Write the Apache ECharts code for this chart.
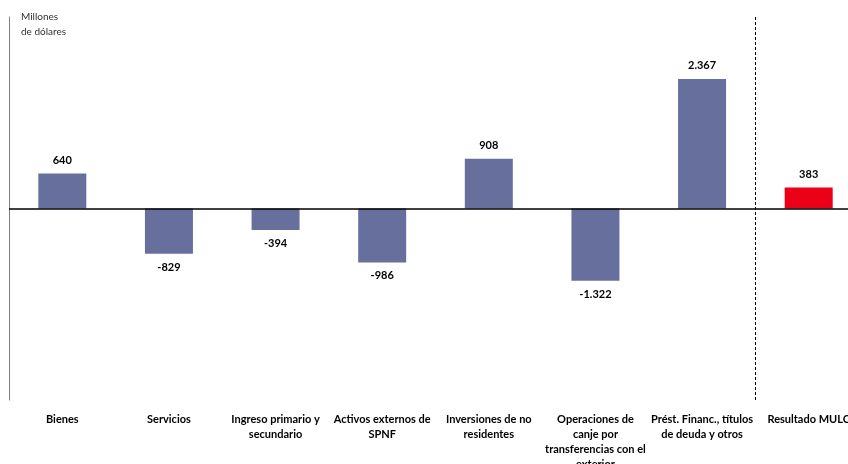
<!DOCTYPE html>
<html>
<head>
<meta charset="utf-8">
<script src="https://cdn.jsdelivr.net/npm/echarts@6/dist/echarts.min.js"></script>
<style>
  html, body { margin: 0; padding: 0; background: #fff; }
  #chart { width: 848px; height: 464px; }
</style>
</head>
<body>
<div id="chart"></div>
<script>
// Flujos de divisas por concepto (millones de dólares)
const categories = [
  'Bienes',
  'Servicios',
  'Ingreso primario y\nsecundario',
  'Activos externos de\nSPNF',
  'Inversiones de no\nresidentes',
  'Operaciones de\ncanje por\ntransferencias con el\nexterior',
  'Prést. Financ., títulos\nde deuda y otros',
  'Resultado MULC'
];
const values = [640, -829, -394, -986, 908, -1322, 2367, 383];
const totalIndex = 7;

const barColor = '#67709c';
const totalColor = '#ec0017';
const fontFamily = 'Lato, "Open Sans", sans-serif';

function fmt(v) {
  const s = Math.abs(v).toString().replace(/\B(?=(\d{3})+(?!\d))/g, '.');
  return (v < 0 ? '-' : '') + s;
}

const seriesData = values.map((v, i) => ({
  value: v,
  itemStyle: { color: i === totalIndex ? totalColor : barColor },
  label: { position: v < 0 ? 'bottom' : 'top' }
}));

const chart = echarts.init(document.getElementById('chart'), null, { renderer: 'canvas' });
chart.setOption({
  animation: false,
  backgroundColor: '#ffffff',
  grid: {
    left: 9, top: 17, width: 853, height: 383,
    containLabel: false,
    outerBoundsMode: 'none'
  },
  graphic: [{
    type: 'text',
    left: 21,
    top: 9,
    style: {
      text: 'Millones\nde dólares',
      font: '10px ' + fontFamily,
      lineHeight: 15,
      fill: '#333'
    }
  }],
  xAxis: [{
    type: 'category',
    data: categories,
    position: 'bottom',
    axisLine: { show: false, onZero: false },
    axisTick: { show: false },
    axisLabel: {
      interval: 0,
      margin: 12,
      color: '#000',
      fontFamily: fontFamily,
      fontWeight: 'bold',
      fontSize: 11,
      lineHeight: 15,
      verticalAlign: 'top'
    },
    splitLine: { show: false }
  }, {
    // band-edge axis: category i spans [i, i+1], used for the separator line
    type: 'value',
    min: 0,
    max: categories.length,
    show: false
  }],
  yAxis: {
    type: 'value',
    min: -3500,
    max: 3500,
    interval: 500,
    axisLine: { show: true, lineStyle: { color: '#7f7f7f', width: 1 } },
    axisTick: { show: false },
    axisLabel: { show: false },
    splitLine: { show: false }
  },
  series: [{
    type: 'bar',
    data: seriesData,
    barWidth: 48,
    label: {
      show: true,
      distance: 8,
      color: '#000',
      fontFamily: fontFamily,
      fontWeight: 'bold',
      fontSize: 11,
      formatter: (p) => fmt(p.value)
    },
    markLine: {
      silent: true,
      symbol: 'none',
      label: { show: false },
      lineStyle: { color: '#000', type: 'solid', width: 1.5 },
      data: [{ yAxis: 0 }]
    }
  }, {
    // dashed separator before the total bar
    type: 'line',
    xAxisIndex: 1,
    data: [],
    markLine: {
      silent: true,
      symbol: 'none',
      label: { show: false },
      lineStyle: { color: '#000', type: [3, 2], width: 1 },
      data: [{ xAxis: totalIndex }]
    }
  }]
});
</script>
</body>
</html>
